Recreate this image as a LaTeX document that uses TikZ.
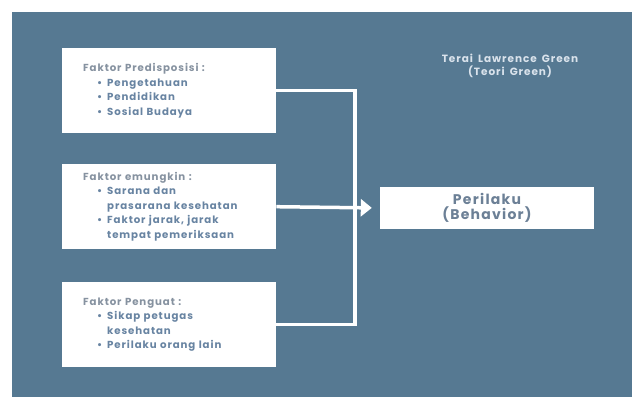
\documentclass[tikz,border=0pt]{standalone}
\usepackage{fontspec}
\usetikzlibrary{arrows.meta}

\newfontfamily\diagfont[LetterSpace=9,WordSpace=1.6]{Poppins}

\definecolor{panel}{RGB}{86,121,146}
\definecolor{headgrey}{RGB}{134,146,160}
\definecolor{itemblue}{RGB}{104,132,162}
\definecolor{behavtext}{RGB}{108,128,150}
\definecolor{titletext}{RGB}{218,227,236}

\newcommand{\factorhead}[1]{\hyphenpenalty=10000\relax{\color{headgrey}#1}\par}
\newcommand{\factoritem}[1]{{\hangindent=24pt\hangafter=1\noindent\hspace*{14pt}\makebox[10pt][l]{\textbullet}#1\par}}

\begin{document}
\begin{tikzpicture}[x=1pt,y=-1pt]
          \tikzstyle{factor}=[fill=white,anchor=north west,inner xsep=21pt,inner ysep=0pt,text width=172pt,minimum height=85pt,align=left,text=itemblue,font=\diagfont\bfseries\fontsize{10.2}{14.5}\selectfont]
          \tikzstyle{link}=[draw=white,line width=3.5pt]

          \useasboundingbox (0,0) rectangle (632,397);
          \fill[panel] (12,12) rectangle (632,397);

          \node (pred) at (62,48) [factor] {\factorhead{Faktor Predisposisi :}\factoritem{Pengetahuan}\factoritem{Pendidikan}\factoritem{Sosial Budaya}};
          \node (pemungkin) at (62,164) [factor] {\factorhead{Faktor emungkin :}\factoritem{Sarana dan\newline prasarana kesehatan}\factoritem{Faktor jarak, jarak\newline tempat pemeriksaan}};
          \node (penguat) at (62,282) [factor] {\factorhead{Faktor Penguat :}\factoritem{Sikap petugas\newline kesehatan}\factoritem{Perilaku orang lain}};

          \node (perilaku) at (487,208) [fill=white,minimum width=214pt,minimum height=42pt,inner sep=0pt,align=center,text=behavtext,font=\diagfont\bfseries\fontsize{14}{15}\selectfont] {Perilaku\\(Behavior)};
          \node (judul) at (510,66) [align=center,text=titletext,font=\diagfont\bfseries\fontsize{10.5}{13}\selectfont] {Terai Lawrence Green\\(Teori Green)};

          \coordinate (bend) at (355,207);
          \draw[link] (pred.east) -| (bend) |- (penguat.east);
          \draw[link,-{Triangle[length=11pt,width=17pt]},shorten >=8pt] (pemungkin.east) -- (perilaku.west);
        \end{tikzpicture}
\end{document}
